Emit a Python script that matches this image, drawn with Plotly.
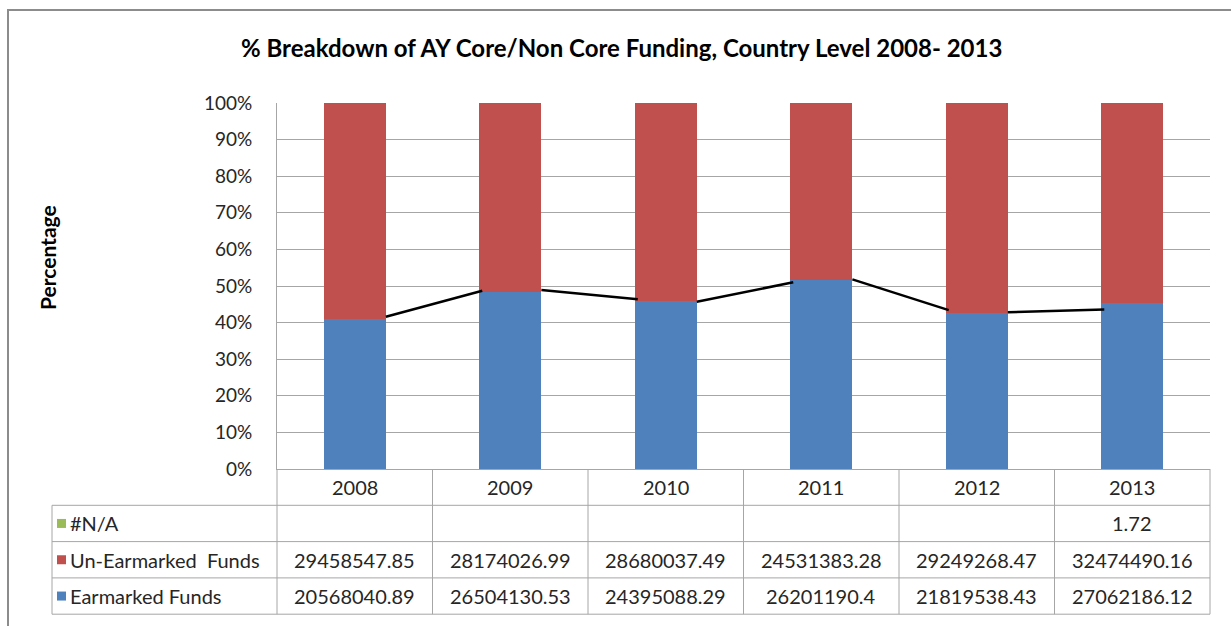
import plotly.graph_objects as go

# ---------------- data ----------------
years = ["2008", "2009", "2010", "2011", "2012", "2013"]
earmarked = [20568040.89, 26504130.53, 24395088.29, 26201190.4, 21819538.43, 27062186.12]
unearmarked = [29458547.85, 28174026.99, 28680037.49, 24531383.28, 29249268.47, 32474490.16]
na_values = [None, None, None, None, None, 1.72]
series_names = ["#N/A", "Un-Earmarked  Funds", "Earmarked Funds"]
# hand-drawn connector line between bars (percent at left end / right end)
line_from = [41.6, 48.9, 45.7, 51.8, 42.8]
line_to = [48.7, 46.4, 51.0, 43.4, 43.6]
y_ticks = [0, 10, 20, 30, 40, 50, 60, 70, 80, 90, 100]

BLUE, RED, GREEN = "#4F81BD", "#C0504D", "#9BBB59"
FONT = "Lato"
GRID = "#A6A6A6"
TXT = "#262626"

W, H = 1231, 626
L, R, T, B = 277, 1210, 103, 469
PW, PH = R - L, B - T


def px(xp):
    return (xp - L) / PW


def py(yp):
    return (B - yp) / PH


xs = list(range(len(years)))
bw = 0.4

fig = go.Figure()
fig.add_trace(go.Bar(x=xs, y=earmarked, name=series_names[2], marker_color=BLUE,
                     width=bw, marker_line_width=0))
fig.add_trace(go.Bar(x=xs, y=unearmarked, name=series_names[1], marker_color=RED,
                     width=bw, marker_line_width=0))
fig.add_trace(go.Bar(x=xs, y=na_values, name=series_names[0], marker_color=GREEN,
                     width=bw, marker_line_width=0))

lx, ly = [], []
for i in range(len(line_from)):
    lx += [i + bw / 2, i + 1 - bw / 2 + 0.02, None]
    ly += [line_from[i], line_to[i], None]
fig.add_trace(go.Scatter(x=lx, y=ly, mode="lines", line=dict(color="black", width=2.5),
                         showlegend=False, hoverinfo="skip"))

shapes = []
ann = []
line_style = dict(color=GRID, width=1)

# outer chart frame (left & top)
shapes.append(dict(type="line", xref="paper", yref="paper", x0=px(8), x1=px(8),
                   y0=py(10), y1=py(H + 5), line=dict(color="#8C8C8C", width=2)))
shapes.append(dict(type="line", xref="paper", yref="paper", x0=px(7), x1=px(W + 5),
                   y0=py(10), y1=py(10), line=dict(color="#8C8C8C", width=2)))

# table geometry
row_edges = [469, 505.3, 541.6, 577.9, 614.2]
tab_left = 52
for yy in row_edges[1:]:
    shapes.append(dict(type="line", xref="paper", yref="paper", x0=px(tab_left), x1=1,
                       y0=py(yy), y1=py(yy), line=line_style))
shapes.append(dict(type="line", xref="paper", yref="paper", x0=px(tab_left), x1=px(tab_left),
                   y0=py(row_edges[1]), y1=py(row_edges[-1]), line=line_style))
for k in range(len(years) + 1):
    xx = k / len(years)
    shapes.append(dict(type="line", xref="paper", yref="paper", x0=xx, x1=xx,
                       y0=py(row_edges[0]), y1=py(row_edges[-1]), line=line_style))

TFS = 20
for i, yr in enumerate(years):
    ann.append(dict(x=(i + 0.5) / len(years), y=py((row_edges[0] + row_edges[1]) / 2),
                    xref="paper", yref="paper", text=yr, showarrow=False,
                    xanchor="center", yanchor="middle",
                    font=dict(family=FONT, size=TFS, color=TXT)))

rows = [(series_names[0], GREEN, na_values),
        (series_names[1], RED, unearmarked),
        (series_names[2], BLUE, earmarked)]
for r, (name, col, vals) in enumerate(rows):
    yc = (row_edges[r + 1] + row_edges[r + 2]) / 2
    shapes.append(dict(type="rect", xref="paper", yref="paper", x0=px(57), x1=px(66),
                       y0=py(yc + 4.5), y1=py(yc - 4.5), fillcolor=col, line=dict(width=0)))
    ann.append(dict(x=px(68), y=py(yc), xref="paper", yref="paper",
                    text=name.replace("  ", "&nbsp; "),
                    showarrow=False, xanchor="left", yanchor="middle",
                    font=dict(family=FONT, size=TFS, color=TXT)))
    for i, v in enumerate(vals):
        if v is None:
            continue
        ann.append(dict(x=(i + 0.5) / len(years), y=py(yc), xref="paper", yref="paper",
                        text=str(v), showarrow=False, xanchor="center", yanchor="middle",
                        font=dict(family=FONT, size=TFS, color=TXT)))

ann.append(dict(x=px(621), y=py(48), xref="paper", yref="paper",
                text="<b>% Breakdown of AY Core/Non Core Funding, Country Level 2008- 2013</b>",
                showarrow=False, xanchor="center", yanchor="middle",
                font=dict(family=FONT, size=24, color="black")))
ann.append(dict(x=px(47), y=py(258), xref="paper", yref="paper", text="<b>Percentage</b>",
                showarrow=False, textangle=-90, xanchor="center", yanchor="middle",
                font=dict(family=FONT, size=21, color="black")))

fig.update_layout(
    width=W, height=H,
    margin=dict(l=L, r=W - R, t=T, b=H - B, pad=0),
    barmode="stack", barnorm="percent",
    paper_bgcolor="white", plot_bgcolor="white",
    showlegend=False,
    shapes=shapes, annotations=ann,
    xaxis=dict(range=[-0.5, len(years) - 0.5], showticklabels=False, showgrid=False,
               zeroline=False, showline=True, linecolor=GRID, linewidth=1, ticks=""),
    yaxis=dict(range=[0, 100], tickvals=y_ticks, ticktext=[f"{t}%" for t in y_ticks],
               showgrid=True, gridcolor=GRID, gridwidth=1, zeroline=False,
               showline=True, linecolor=GRID, linewidth=1, ticks="",
               ticklabelstandoff=20,
               tickfont=dict(family=FONT, size=19, color=TXT)),
)

fig.write_html("out.html", config={"displayModeBar": False},
               post_script="document.body.style.margin='0px';")
